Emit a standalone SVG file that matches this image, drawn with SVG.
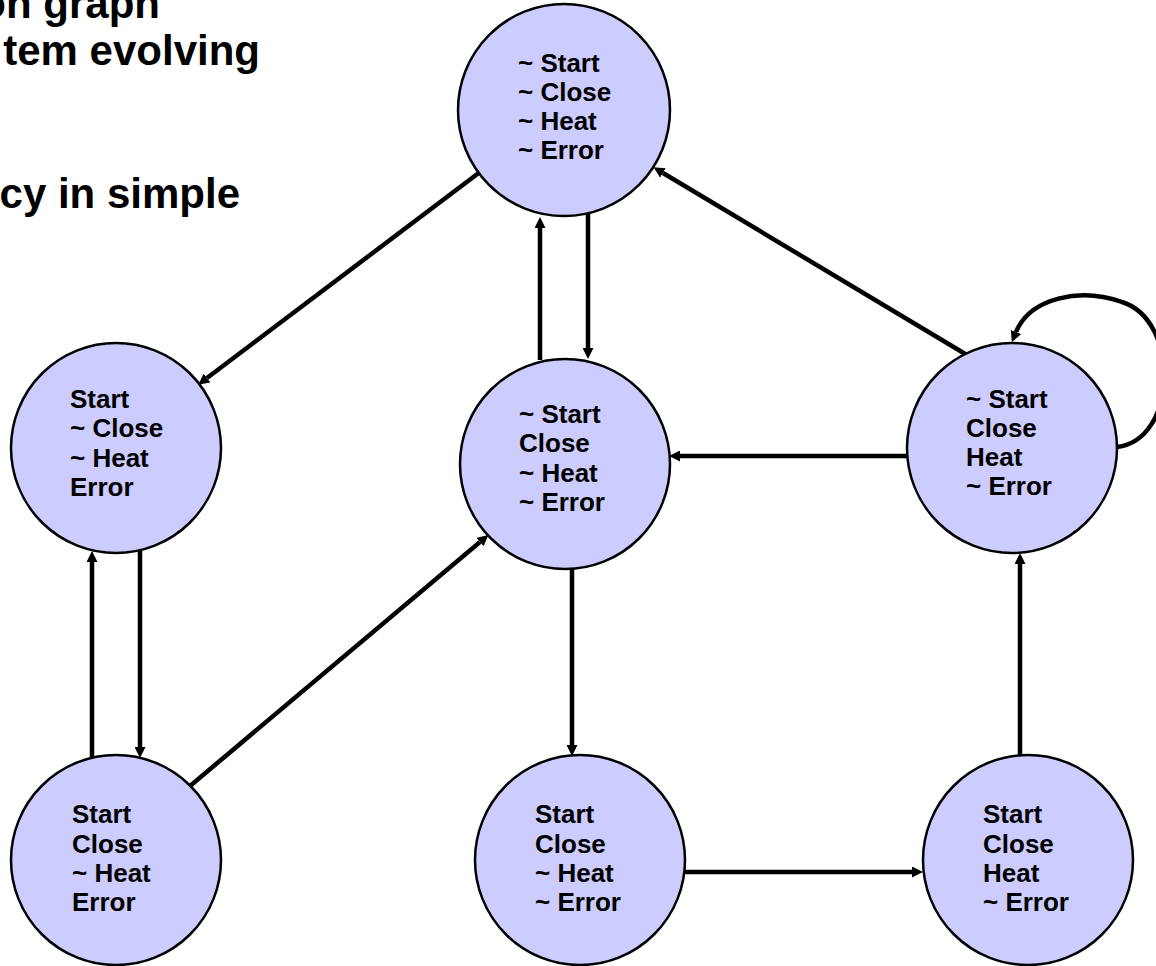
<svg xmlns="http://www.w3.org/2000/svg" width="1156" height="966" viewBox="0 0 1156 966">
  <style>
    .state { fill: #CCCCFF; stroke: #000; stroke-width: 2.5; }
    .lbl { font-family: "Liberation Sans", Arial, sans-serif; font-weight: bold; font-size: 26px; fill: #000; }
    .head { font-family: "Liberation Sans", Arial, sans-serif; font-weight: bold; font-size: 42px; fill: #000; }
    .edge { fill: none; stroke: #000; stroke-width: 4.5; }
  </style>
  <defs>
    <marker id="arrow" markerUnits="userSpaceOnUse" markerWidth="11" markerHeight="11" refX="0" refY="5.5" orient="auto">
      <path d="M0,0 L11,5.5 L0,11 Z" fill="#000"/>
    </marker>
  </defs>
  <rect width="1156" height="966" fill="#fff"/>

  <!-- slide text, partly off the left edge -->
  <g id="heading">
    <text class="head" x="160" y="18" text-anchor="end">on graph</text>
    <text class="head" x="260" y="65" text-anchor="end">tem evolving</text>
    <text class="head" x="240" y="208" text-anchor="end">cy in simple</text>
  </g>

  <!-- transitions -->
  <g id="connectors">
    <line class="edge" x1="480" y1="172" x2="207" y2="378" marker-end="url(#arrow)"/>
    <line class="edge" x1="540" y1="360" x2="540" y2="228" marker-end="url(#arrow)"/>
    <line class="edge" x1="588" y1="214" x2="588" y2="348" marker-end="url(#arrow)"/>
    <line class="edge" x1="972" y1="358" x2="663" y2="173" marker-end="url(#arrow)"/>
    <path class="edge" d="M1117,447 C1178,440 1180,320 1122,302 C1080,287 1030,298 1016,332" marker-end="url(#arrow)"/>
    <line class="edge" x1="907" y1="456" x2="680" y2="456" marker-end="url(#arrow)"/>
    <line class="edge" x1="572" y1="568" x2="572" y2="745" marker-end="url(#arrow)"/>
    <line class="edge" x1="684" y1="872" x2="912" y2="872" marker-end="url(#arrow)"/>
    <line class="edge" x1="1020" y1="755" x2="1020" y2="564" marker-end="url(#arrow)"/>
    <line class="edge" x1="92" y1="758" x2="92" y2="562" marker-end="url(#arrow)"/>
    <line class="edge" x1="140" y1="551" x2="140" y2="747" marker-end="url(#arrow)"/>
    <line class="edge" x1="190" y1="786" x2="480" y2="542" marker-end="url(#arrow)"/>
  </g>

  <g id="s-none">
    <circle class="state" cx="564" cy="110" r="106"/>
    <text class="lbl" x="518" y="72">~ Start</text>
    <text class="lbl" x="518" y="101">~ Close</text>
    <text class="lbl" x="518" y="130">~ Heat</text>
    <text class="lbl" x="518" y="159">~ Error</text>
  </g>

  <g id="s-start-error">
    <circle class="state" cx="116" cy="448" r="105"/>
    <text class="lbl" x="70" y="408">Start</text>
    <text class="lbl" x="70" y="437">~ Close</text>
    <text class="lbl" x="70" y="467">~ Heat</text>
    <text class="lbl" x="70" y="496">Error</text>
  </g>

  <g id="s-close">
    <circle class="state" cx="565" cy="464" r="105"/>
    <text class="lbl" x="519" y="423">~ Start</text>
    <text class="lbl" x="519" y="452">Close</text>
    <text class="lbl" x="519" y="482">~ Heat</text>
    <text class="lbl" x="519" y="511">~ Error</text>
  </g>

  <g id="s-close-heat">
    <circle class="state" cx="1012" cy="448" r="105"/>
    <text class="lbl" x="966" y="408">~ Start</text>
    <text class="lbl" x="966" y="437">Close</text>
    <text class="lbl" x="966" y="466">Heat</text>
    <text class="lbl" x="966" y="495">~ Error</text>
  </g>

  <g id="s-start-close-error">
    <circle class="state" cx="116" cy="860" r="105"/>
    <text class="lbl" x="72" y="823">Start</text>
    <text class="lbl" x="72" y="853">Close</text>
    <text class="lbl" x="72" y="882">~ Heat</text>
    <text class="lbl" x="72" y="911">Error</text>
  </g>

  <g id="s-start-close">
    <circle class="state" cx="580" cy="860" r="105"/>
    <text class="lbl" x="535" y="823">Start</text>
    <text class="lbl" x="535" y="853">Close</text>
    <text class="lbl" x="535" y="882">~ Heat</text>
    <text class="lbl" x="535" y="911">~ Error</text>
  </g>

  <g id="s-start-close-heat">
    <circle class="state" cx="1028" cy="860" r="105"/>
    <text class="lbl" x="983" y="823">Start</text>
    <text class="lbl" x="983" y="853">Close</text>
    <text class="lbl" x="983" y="882">Heat</text>
    <text class="lbl" x="983" y="911">~ Error</text>
  </g>
</svg>
